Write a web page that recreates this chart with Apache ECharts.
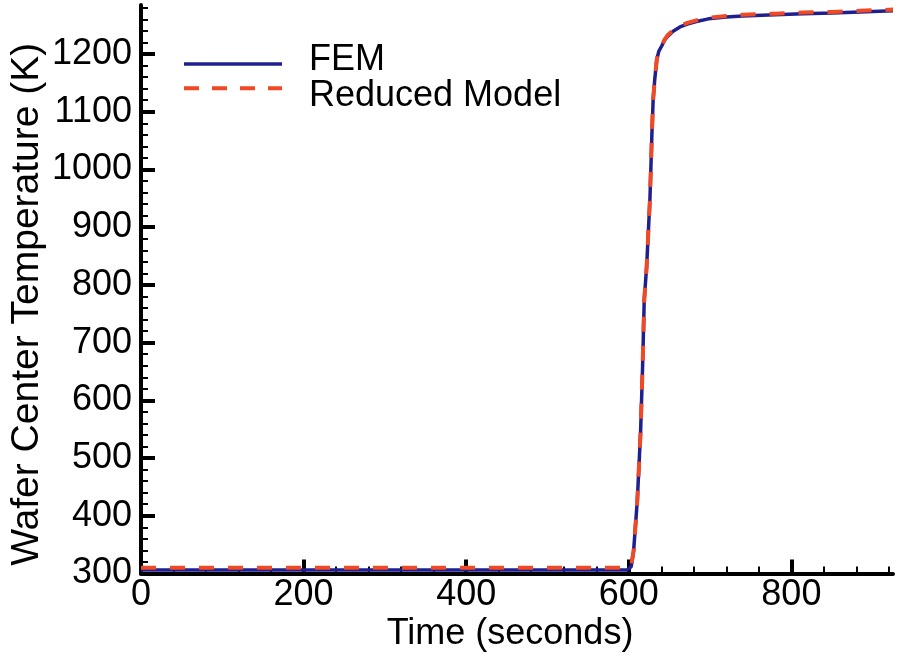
<!DOCTYPE html>
<html>
<head>
<meta charset="utf-8">
<script src="https://cdn.jsdelivr.net/npm/echarts@6/dist/echarts.min.js"></script>
<style>
html,body{margin:0;padding:0;background:#fff;}
#c{width:899px;height:656px;}
</style>
</head>
<body>
<div id="c"></div>
<script>
// ---- data ----
const timeFEM = [0, 100, 200, 300, 400, 500, 598, 603, 606, 610.5, 614.5, 617, 619, 622, 626, 628.5, 630, 632, 634.5, 637, 640.5, 644, 648, 655, 663, 672, 682, 698, 720, 740, 780, 814, 850, 884, 925];
const tempFEM = [306, 306, 306, 306, 306, 306, 306, 312, 340, 427, 544, 659, 774, 832, 948, 1064, 1122, 1157, 1191, 1205, 1214, 1224, 1231, 1240, 1247, 1252, 1256, 1261, 1264, 1266, 1268, 1270, 1271, 1273, 1275];
const timeRed = [0, 100, 200, 300, 400, 500, 598, 603, 606, 610.5, 614.5, 617, 619, 622, 626, 628.5, 630, 632, 634.5, 637, 640.5, 644, 648, 655, 663, 672, 682, 698, 720, 740, 780, 814, 850, 884, 925];
const tempRed = [310, 310, 310, 310, 310, 310, 310, 314, 340, 427, 544, 659, 774, 832, 948, 1064, 1122, 1157, 1191, 1206, 1215, 1225, 1233, 1242, 1249, 1254, 1258, 1263, 1266, 1268, 1270, 1272, 1273, 1275, 1277];
const xMajorTicks = [0, 200, 400, 600, 800];
const yMajorTicks = [300, 400, 500, 600, 700, 800, 900, 1000, 1100, 1200];
const xMinorTicks = [40, 80, 120, 160, 240, 280, 320, 360, 440, 480, 520, 560, 640, 680, 720, 760, 840, 880, 920];
const yMinorTicks = [320,340,360,380,420,440,460,480,520,540,560,580,620,640,660,680,720,740,760,780,820,840,860,880,920,940,960,980,1020,1040,1060,1080,1120,1140,1160,1180,1220,1240,1260,1280];
const seriesNames = ['FEM', 'Reduced Model'];
const xName = 'Time (seconds)';
const yName = 'Wafer Center Temperature (K)';

const FONT = "'Liberation Sans', Arial, Helvetica, sans-serif";
const X_MIN = 0, X_MAX = 925, Y_MIN = 300, Y_MAX = 1285;
const BLUE = '#1f1f8f', RED = '#ef4a25';

const chart = echarts.init(document.getElementById('c'), null, {renderer: 'canvas'});
const pair = (xs, ys) => xs.map((x, i) => [x, ys[i]]);
const plain = v => String(v);

const legendItems = [
  {name: seriesNames[0], lineStyle: {color: BLUE, width: 3.5, type: 'solid'}, itemStyle: {opacity: 0}},
  {name: seriesNames[1], lineStyle: {color: RED, width: 4, type: [15, 13]}, itemStyle: {opacity: 0}}
];

const option = {
  animation: false,
  backgroundColor: '#fff',
  textStyle: {fontFamily: FONT, color: '#000'},
  grid: {left: 141, right: 6, top: 5, bottom: 82.5, containLabel: false, outerBoundsMode: 'none'},
  legend: [{
    // line samples
    orient: 'vertical', left: 182, top: 58.5, padding: 0,
    itemWidth: 98, itemHeight: 14, itemGap: 13,
    itemStyle: {opacity: 0},
    formatter: () => '',
    textStyle: {fontSize: 10, lineHeight: 10, padding: 0},
    data: legendItems
  }, {
    // labels
    orient: 'vertical', left: 304, top: 42, padding: 0,
    itemWidth: 0, itemHeight: 0, itemGap: 0.5,
    itemStyle: {opacity: 0}, lineStyle: {opacity: 0, width: 0},
    textStyle: {fontSize: 36, lineHeight: 36, fontFamily: FONT, color: '#000'},
    data: seriesNames.map(n => ({name: n, itemStyle: {opacity: 0}, lineStyle: {opacity: 0, width: 0}}))
  }],
  xAxis: [{
    type: 'value', min: X_MIN, max: X_MAX, interval: 200,
    name: xName, nameLocation: 'middle', nameGap: 43, nameMoveOverlap: false,
    nameTextStyle: {fontSize: 36, fontFamily: FONT, color: '#000', padding: [0, 14, 0, 0]},
    axisLine: {show: true, onZero: false, lineStyle: {color: '#000', width: 4}},
    axisTick: {show: true, inside: true, length: 14, lineStyle: {color: '#000', width: 4}, customValues: xMajorTicks},
    axisLabel: {fontSize: 36, fontFamily: FONT, color: '#000', margin: 4, customValues: xMajorTicks, formatter: plain},
    splitLine: {show: false}
  }, {
    type: 'value', min: X_MIN, max: X_MAX, position: 'bottom', offset: 0,
    axisLine: {show: false},
    axisTick: {show: true, inside: true, length: 7, lineStyle: {color: '#000', width: 2}, customValues: xMinorTicks},
    axisLabel: {show: false},
    splitLine: {show: false}
  }],
  yAxis: [{
    type: 'value', min: Y_MIN, max: Y_MAX, interval: 100,
    name: yName, nameLocation: 'middle', nameGap: 94, nameMoveOverlap: false,
    nameTextStyle: {fontSize: 39, fontFamily: FONT, color: '#000', padding: [0, 30, 0, 0]},
    axisLine: {show: true, onZero: false, lineStyle: {color: '#000', width: 4}},
    axisTick: {show: true, inside: true, length: 14, lineStyle: {color: '#000', width: 4}, customValues: yMajorTicks},
    axisLabel: {fontSize: 36, fontFamily: FONT, color: '#000', margin: 9, customValues: yMajorTicks, formatter: plain},
    splitLine: {show: false}
  }, {
    type: 'value', min: Y_MIN, max: Y_MAX, position: 'left', offset: 0,
    axisLine: {show: false},
    axisTick: {show: true, inside: true, length: 7, lineStyle: {color: '#000', width: 2}, customValues: yMinorTicks},
    axisLabel: {show: false},
    splitLine: {show: false}
  }],
  series: [{
    name: seriesNames[0], type: 'line', xAxisIndex: 0, yAxisIndex: 0,
    data: pair(timeFEM, tempFEM), symbol: 'none', smooth: false,
    lineStyle: {color: BLUE, width: 3.5}, itemStyle: {color: BLUE}, z: 3
  }, {
    name: seriesNames[1], type: 'line', xAxisIndex: 0, yAxisIndex: 0,
    data: pair(timeRed, tempRed), symbol: 'none', smooth: false,
    lineStyle: {color: RED, width: 4, type: [15, 14]}, itemStyle: {color: RED}, z: 4
  }]
};
chart.setOption(option);
</script>
</body>
</html>
